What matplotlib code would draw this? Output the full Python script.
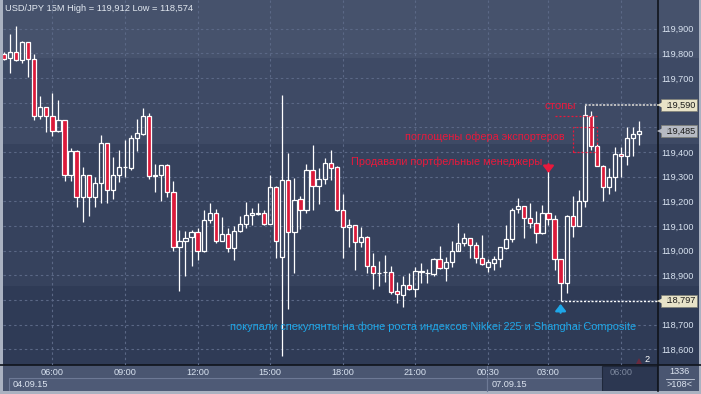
import matplotlib
matplotlib.use("Agg")
import matplotlib.pyplot as plt
from matplotlib.patches import Rectangle
import numpy as np

plt.rcParams['font.family'] = ['Liberation Sans', 'DejaVu Sans']

# ---------------- data ----------------
chart_title = "USD/JPY 15M High = 119,912 Low = 118,574"

opens = [119.797, 119.780, 119.807, 119.773, 119.845, 119.776, 119.547, 119.581, 119.547, 119.484,
         119.529, 119.306, 119.403, 119.219, 119.306, 119.216, 119.273, 119.435, 119.245, 119.306,
         119.338, 119.334, 119.456, 119.472, 119.545, 119.304, 119.306, 119.346, 119.237, 119.016,
         119.038, 119.054, 119.074, 118.999, 119.123, 119.151, 119.040, 119.066, 119.010, 119.078,
         119.107, 119.143, 119.150, 119.151, 119.109, 119.257, 118.973, 119.287, 119.074, 119.208,
         119.166, 119.327, 119.263, 119.291, 119.354, 119.338, 119.166, 119.095, 119.103, 119.034,
         119.054, 118.938, 118.911, 118.915, 118.915, 118.836, 118.821, 118.861, 118.843, 118.913,
         118.911, 118.907, 118.965, 118.931, 118.953, 118.997, 119.030, 119.050, 119.022, 118.970,
         118.933, 118.951, 118.965, 119.010, 119.046, 119.168, 119.180, 119.131, 119.111, 119.070,
         119.151, 119.127, 118.965, 118.870, 119.141, 119.101, 119.201, 119.546, 119.426, 119.344,
         119.257, 119.300, 119.391, 119.384, 119.455, 119.472]

highs = [119.806, 119.879, 119.912, 119.850, 119.848, 119.797, 119.627, 119.583, 119.639, 119.611,
         119.530, 119.417, 119.407, 119.340, 119.307, 119.297, 119.468, 119.437, 119.381, 119.408,
         119.449, 119.469, 119.534, 119.578, 119.557, 119.351, 119.347, 119.351, 119.282, 119.083,
         119.080, 119.084, 119.091, 119.165, 119.193, 119.168, 119.136, 119.091, 119.100, 119.141,
         119.197, 119.173, 119.193, 119.164, 119.307, 119.262, 119.631, 119.396, 119.295, 119.220,
         119.351, 119.428, 119.335, 119.374, 119.408, 119.344, 119.230, 119.127, 119.103, 119.097,
         119.059, 118.990, 118.958, 118.982, 118.938, 118.874, 118.897, 118.908, 118.932, 118.949,
         118.926, 118.970, 119.019, 118.973, 119.039, 119.113, 119.070, 119.051, 119.035, 119.062,
         118.965, 118.978, 119.016, 119.104, 119.172, 119.212, 119.181, 119.193, 119.161, 119.185,
         119.334, 119.145, 118.966, 119.145, 119.222, 119.246, 119.590, 119.568, 119.433, 119.347,
         119.336, 119.420, 119.420, 119.503, 119.502, 119.526]

lows = [119.773, 119.722, 119.770, 119.762, 119.705, 119.530, 119.535, 119.482, 119.466, 119.482,
        119.284, 119.284, 119.176, 119.116, 119.142, 119.178, 119.192, 119.192, 119.211, 119.277,
        119.297, 119.327, 119.405, 119.470, 119.289, 119.239, 119.203, 119.219, 119.000, 118.838,
        118.898, 118.939, 118.962, 118.996, 119.111, 119.032, 119.038, 118.996, 118.962, 119.074,
        119.093, 119.103, 119.146, 119.103, 119.107, 118.971, 118.574, 118.762, 118.911, 119.089,
        119.154, 119.166, 119.190, 119.269, 119.288, 119.162, 118.971, 119.016, 118.923, 119.016,
        118.908, 118.845, 118.858, 118.874, 118.823, 118.787, 118.773, 118.841, 118.813, 118.870,
        118.870, 118.897, 118.927, 118.878, 118.933, 119.027, 119.019, 118.969, 118.951, 118.942,
        118.915, 118.922, 118.935, 119.008, 119.036, 119.151, 119.053, 119.091, 119.032, 119.068,
        119.104, 118.922, 118.797, 118.827, 119.057, 119.099, 119.178, 119.408, 119.342, 119.203,
        119.229, 119.243, 119.297, 119.348, 119.384, 119.430]

closes = [119.777, 119.807, 119.772, 119.845, 119.776, 119.547, 119.581, 119.547, 119.484, 119.529,
          119.306, 119.403, 119.219, 119.306, 119.216, 119.273, 119.435, 119.245, 119.306, 119.339,
          119.340, 119.456, 119.476, 119.545, 119.302, 119.305, 119.346, 119.237, 119.016, 119.038,
          119.053, 119.074, 118.999, 119.123, 119.151, 119.040, 119.066, 119.010, 119.078, 119.107,
          119.143, 119.151, 119.151, 119.109, 119.257, 119.040, 119.287, 119.074, 119.205, 119.166,
          119.327, 119.263, 119.291, 119.354, 119.336, 119.166, 119.095, 119.103, 119.034, 119.054,
          118.938, 118.908, 118.910, 118.914, 118.834, 118.823, 118.861, 118.843, 118.918, 118.918,
          118.910, 118.965, 118.931, 118.953, 118.997, 119.030, 119.050, 119.022, 118.970, 118.945,
          118.953, 118.965, 119.014, 119.046, 119.164, 119.180, 119.131, 119.111, 119.070, 119.151,
          119.127, 118.965, 118.870, 119.141, 119.101, 119.201, 119.550, 119.426, 119.344, 119.257,
          119.300, 119.391, 119.384, 119.455, 119.472, 119.485]

time_ticks = [8, 20, 32, 44, 56, 68, 80, 90, 102]
time_labels = ['06:00', '09:00', '12:00', '15:00', '18:00', '21:00', '00:30', '03:00', '06:00']
date_labels = ['04.09.15', '07.09.15']

price_ticks = [118.6, 118.7, 118.8, 118.9, 119.0, 119.1, 119.2, 119.3, 119.4, 119.5, 119.6, 119.7, 119.8, 119.9]
price_tick_labels = ['118,600', '118,700', '', '118,900', '119,000', '119,100', '119,200', '119,300',
                     '119,400', '', '', '119,700', '119,800', '119,900']

marker_prices = [119.590, 119.485, 118.797]
marker_labels = ['119,590', '119,485', '118,797']

stops_level = 119.547
absorbed_box = (119.399, 119.500)
sell_arrow_price = 119.315
buy_arrow_price = 118.784

text_stops = 'стопы'
text_absorbed = 'поглощены офера экспортеров'
text_sold = 'Продавали портфельные менеджеры'
text_bought = 'покупали спекулянты на фоне роста индексов Nikkei 225 и Shanghai Composite'

# ---------------- figure ----------------
W, H = 701, 394
fig = plt.figure(figsize=(W / 100, H / 100), dpi=100)
fig.patch.set_facecolor('#2f3b56')

bg = fig.add_axes([0, 0, 1, 1], zorder=0)
bg.set_xlim(0, W)
bg.set_ylim(H, 0)
bg.axis('off')

for y0, y1, col in [(0, 58, '#46526c'), (58, 144, '#3e4a65'), (144, 286, '#36425d'), (286, 365, '#2f3b56')]:
    bg.add_patch(Rectangle((0, y0), W, y1 - y0, color=col, lw=0))

# bottom time panel
bg.add_patch(Rectangle((0, 365), W, 26, color='#4a5671', lw=0))
bg.add_patch(Rectangle((9, 378), 478, 12.5, fc='#4e5a76', ec='#6d7995', lw=0.8))
bg.add_patch(Rectangle((487, 378), 115, 12.5, fc='#4e5a76', ec='#6d7995', lw=0.8))
bg.add_patch(Rectangle((602, 365.5), 55, 25, fc='#2c3751', ec='#1f283b', lw=0.8))
bg.plot([487, 487], [365, 391], color='#6d7995', lw=0.8)
# window frame
bg.add_patch(Rectangle((0, 0), 3, H, color='#aab2c1', lw=0))
bg.add_patch(Rectangle((0, 391), W, 3, color='#aab2c1', lw=0))
bg.add_patch(Rectangle((699, 0), 2, H, color='#aab2c1', lw=0))
bg.plot([0, W], [365, 365], color='#10141c', lw=1.2)
bg.plot([658, 658], [0, 391], color='#10141c', lw=1.2)

bg.text(5, 8.5, chart_title, color='#e2e8f0', fontsize=6.7, va='center', ha='left')
bg.text(13, 384.6, date_labels[0], color='#dce4f0', fontsize=6.6, va='center', ha='left')
bg.text(491.5, 384.6, date_labels[1], color='#dce4f0', fontsize=6.6, va='center', ha='left')
bg.text(679.5, 372, '1336', color='#dce4f0', fontsize=6.6, va='center', ha='center')
bg.plot([666, 694], [378.5, 378.5], color='#c9d1de', lw=0.6)
bg.text(679.5, 384.6, '>108<', color='#dce4f0', fontsize=6.6, va='center', ha='center')
bg.text(647.5, 359, '2', color='white', fontsize=6.6, va='center', ha='center')
bg.plot([639], [360.5], marker='^', color='#6a2a3e', ms=4, mew=0)

# main price axes
L, R = 3.3 / W, 658 / W
B, T = (H - 365) / H, 1.0
ax = fig.add_axes([L, B, R - L, T - B], zorder=2)
ax.set_facecolor('none')
ax.set_xlim(-0.116, 108.1)
ax.set_ylim(118.5363, 120.0164)

o = np.array(opens); h = np.array(highs); l = np.array(lows); c = np.array(closes)
x = np.arange(len(o))
up = c >= o
top = np.maximum(o, c)
bot = np.minimum(o, c)

ax.vlines(x, top, h, color='white', lw=0.9, zorder=3)
ax.vlines(x, l, bot, color='white', lw=0.9, zorder=3)
ax.bar(x[up], (top - bot)[up], bottom=bot[up], width=0.7, facecolor='none',
       edgecolor='white', lw=0.9, zorder=4)
ax.bar(x[~up], (top - bot)[~up], bottom=bot[~up], width=0.7, facecolor='#dc1a3a',
       edgecolor='white', lw=0.9, zorder=4)

ax.set_xticks(time_ticks)
ax.set_xticklabels(time_labels)
ax.set_yticks(price_ticks)
ax.set_yticklabels(price_tick_labels)
ax.yaxis.tick_right()
ax.tick_params(axis='both', length=0, labelsize=6.6, labelcolor='#d8e2f0')
ax.tick_params(axis='x', pad=2.2)
ax.tick_params(axis='y', pad=2.2)
ax.get_xticklabels()[-1].set_color('#7d889e')
ax.grid(True, color='#5b6886', lw=0.8, ls=(0, (2.2, 2.6)))
ax.set_axisbelow(True)
for s in ax.spines.values():
    s.set_visible(False)

xmax = ax.get_xlim()[1]
# dotted level lines
ax.plot([96, xmax], [marker_prices[0]] * 2, color='#c8c8c8', lw=1.3, ls=(0, (1.2, 0.8)), zorder=5, clip_on=False)
ax.plot([92, xmax], [marker_prices[2]] * 2, color='white', lw=1.0, ls=(0, (1.5, 1.2)), zorder=5, clip_on=False)

# price marker boxes
box_colors = ['#e8e3c8', '#b6bac3', '#e8e3c8']
for p, lab, fc in zip(marker_prices, marker_labels, box_colors):
    ax.annotate(lab, xy=(1, p), xycoords=('axes fraction', 'data'), xytext=(5, 0),
                textcoords='offset pixels', fontsize=6.6, color='#1c1c1c', va='center', ha='left',
                bbox=dict(boxstyle='square,pad=0.18', fc=fc, ec='#7e7e74', lw=0.5),
                annotation_clip=False, zorder=6)
    ax.plot([1.0062], [p], marker='<', ms=6.5, color=fc, mew=0,
            transform=ax.get_yaxis_transform(), clip_on=False, zorder=7)

# annotations
red = '#e8193c'
blue = '#1ea7e8'
ax.text(94.6, 119.586, text_stops, color=red, fontsize=8.2, ha='right', va='center', zorder=6)
ax.plot([91, 98], [stops_level] * 2, color=red, lw=0.9, ls=(0, (1.6, 1.6)), zorder=6)
ax.add_patch(Rectangle((94.0, absorbed_box[0]), 4.0, absorbed_box[1] - absorbed_box[0],
                       fill=False, ec=red, lw=0.9, ls=(0, (1.6, 1.6)), zorder=6))
ax.text(92.7, 119.462, text_absorbed, color=red, fontsize=7.85, ha='right', va='center', zorder=6)
ax.text(88.9, 119.361, text_sold, color=red, fontsize=7.85, ha='right', va='center', zorder=6)
ax.annotate('', xy=(90, sell_arrow_price), xytext=(90, sell_arrow_price + 0.036),
            arrowprops=dict(arrowstyle='-|>,head_length=0.45,head_width=0.35', color=red, lw=1.6,
                            shrinkA=0, shrinkB=0, mutation_scale=9), zorder=7)
ax.annotate('', xy=(92, buy_arrow_price), xytext=(92, buy_arrow_price - 0.036),
            arrowprops=dict(arrowstyle='-|>,head_length=0.45,head_width=0.35', color=blue, lw=1.6,
                            shrinkA=0, shrinkB=0, mutation_scale=9), zorder=7)
ax.text(71.0, 118.692, text_bought, color=blue, fontsize=7.95, ha='center', va='center', zorder=6)

fig.savefig('out.png', dpi=100, facecolor=fig.get_facecolor())
